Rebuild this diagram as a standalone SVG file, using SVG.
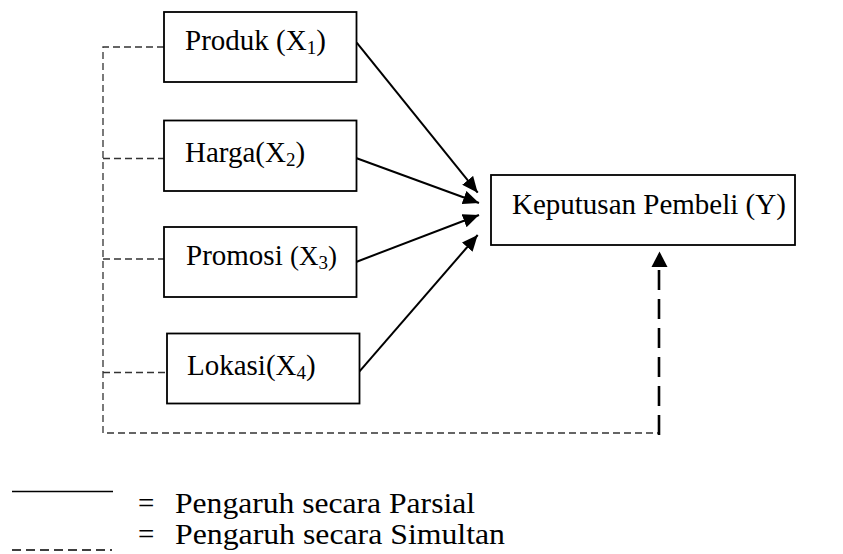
<svg xmlns="http://www.w3.org/2000/svg" width="843" height="554" viewBox="0 0 843 554">
<style>
.box{fill:#fff;stroke:#000;stroke-width:1.8}
.t{font-family:"Liberation Serif","Times New Roman",serif;font-size:29px;fill:#000}
.sub{font-size:19px}
.solid{stroke:#000;stroke-width:2;fill:none}
.dash{stroke:#333;stroke-width:1.3;stroke-dasharray:7 4;fill:none}
.dashb{stroke:#000;stroke-width:2.6;stroke-dasharray:20 9;fill:none}
</style>
<defs>
<marker id="ah" markerUnits="userSpaceOnUse" markerWidth="18" markerHeight="14" refX="16" refY="7" orient="auto">
<path d="M0,0 L16,7 L0,14 Z" fill="#000"/>
</marker>
</defs>
<rect width="843" height="554" fill="#fff"/>
<g id="connectors">
<path class="dash" d="M164,47 H103 V433 H659"/>
<path class="dash" d="M103,158.5 H164"/>
<path class="dash" d="M103,259 H164"/>
<path class="dash" d="M103,372.5 H167"/>
<path class="dashb" d="M659,435 V266"/>
<path d="M651.5,267 L659.5,251.5 L667.5,267 Z" fill="#000"/>
<line class="solid" x1="356.7" y1="42.7" x2="477.7" y2="192.7" marker-end="url(#ah)"/>
<line class="solid" x1="356.7" y1="158.3" x2="479" y2="203" marker-end="url(#ah)"/>
<line class="solid" x1="356.7" y1="261.7" x2="479" y2="215" marker-end="url(#ah)"/>
<line class="solid" x1="359.3" y1="371.7" x2="477.7" y2="235" marker-end="url(#ah)"/>
</g>
<g id="x1">
<rect class="box" x="164" y="12" width="192.5" height="70"/>
<text class="t" x="185" y="50">Produk (X<tspan class="sub" dy="4">1</tspan><tspan dy="-4">)</tspan></text>
</g>
<g id="x2">
<rect class="box" x="164" y="120.5" width="192.5" height="70.5"/>
<text class="t" x="185" y="161.5">Harga(X<tspan class="sub" dy="4">2</tspan><tspan dy="-4">)</tspan></text>
</g>
<g id="x3">
<rect class="box" x="164" y="227" width="192.5" height="70"/>
<text class="t" x="186" y="265">Promosi <tspan font-size="27">(X</tspan><tspan class="sub" dy="4">3</tspan><tspan font-size="27" dy="-4">)</tspan></text>
</g>
<g id="x4">
<rect class="box" x="167" y="333.5" width="192.5" height="70"/>
<text class="t" x="187" y="375">Lokasi(X<tspan class="sub" dy="4">4</tspan><tspan dy="-4">)</tspan></text>
</g>
<g id="y">
<rect class="box" x="491" y="175" width="304" height="70"/>
<text class="t" x="512" y="213.5">Keputusan Pembeli (Y)</text>
</g>
<g id="legend">
<line x1="12" y1="491.5" x2="113" y2="491.5" stroke="#000" stroke-width="1.3"/>
<line x1="12" y1="550" x2="112" y2="550" stroke="#000" stroke-width="1.3" stroke-dasharray="9 5"/>
<text class="t" x="138" y="512.5">=</text>
<text class="t" x="175" y="512.5" textLength="300" lengthAdjust="spacingAndGlyphs">Pengaruh secara Parsial</text>
<text class="t" x="138" y="543.5">=</text>
<text class="t" x="175" y="543.5" textLength="330" lengthAdjust="spacingAndGlyphs">Pengaruh secara Simultan</text>
</g>
</svg>
